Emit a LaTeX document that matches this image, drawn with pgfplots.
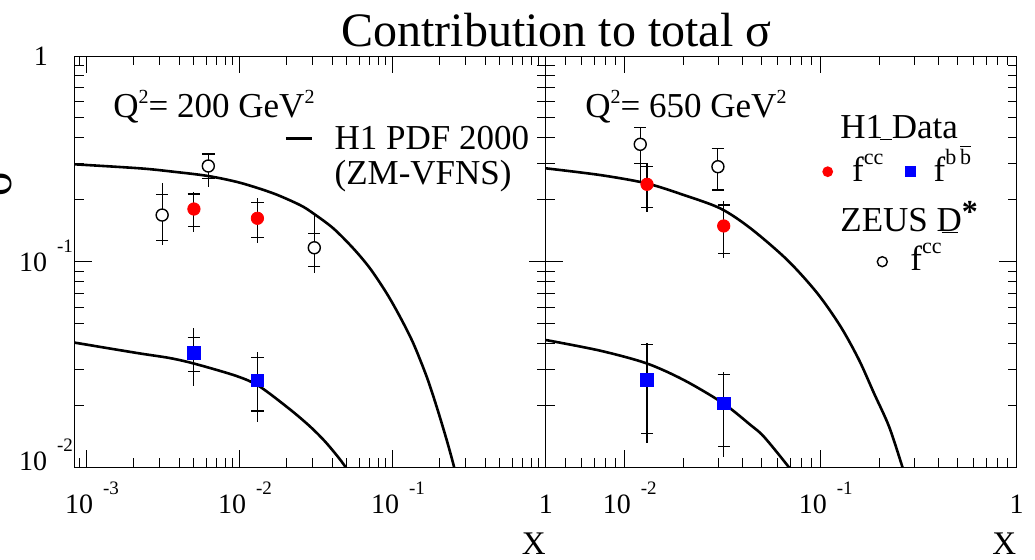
\documentclass[border=0pt]{standalone}
\usepackage{pgfplots}
\usepackage{pgfplotstable}
\pgfplotsset{compat=1.18}
\usepackage{fontspec}
\setmainfont{Liberation Serif}
\newcommand{\tten}[1]{\hspace{5pt}10\hspace{5pt}\raisebox{9.5pt}{\fontsize{9.5}{9.5}\selectfont #1}}
\newcommand{\sps}[1]{\raisebox{7pt}{\fontsize{10}{10}\selectfont #1}}
\newcommand{\spl}[1]{\raisebox{8.5pt}{\fontsize{11}{11}\selectfont #1}}

% x y total+ total- stat+ stat-
\pgfplotstableread{
x y tp tm sp sm
0.00310 0.1686 0.0719 0.0481 0.0441 0.0421
0.00621 0.2919 0.0421 0.0603 0.0421 0.0379
0.0306 0.1169 0.0537 0.0284 0.0205 0.0224
}\zeusL
\pgfplotstableread{
x y tp tm sp sm
0.005 0.1804 0.0384 0.0404 0.0330 0.0314
0.013 0.1626 0.0407 0.0397 0.0318 0.0312
}\hcL
\pgfplotstableread{
x y tp tm sp sm
0.005 0.0361 0.0113 0.0112 0.0068 0.0069
0.013 0.0264 0.0101 0.0097 0.0077 0.0076
}\hbL
\pgfplotstableread{
x y tp tm sp sm
0.0120 0.3722 0.0778 0.1256 0.0778 0.0713
0.0299 0.2896 0.0662 0.0664 0.0662 0.0664
}\zeusR
\pgfplotstableread{
x y tp tm sp sm
0.013 0.2378 0.0631 0.0630 0.0518 0.0540
0.032 0.1492 0.0480 0.0453 0.0395 0.0393
}\hcR
\pgfplotstableread{
x y tp tm sp sm
0.013 0.0266 0.0138 0.0135 0.0128 0.0120
0.032 0.0205 0.0087 0.0093 0.0079 0.0079
}\hbR

\pgfplotsset{
  hTot/.style={only marks, mark=none, black, forget plot,
    error bars/y dir=both, error bars/y explicit, error bars/error mark=none,
    error bars/error bar style={line width=0.55pt, black}},
  hStat/.style={only marks, mark=none, black, forget plot,
    error bars/y dir=both, error bars/y explicit, error bars/error mark=-,
    error bars/error mark options={rotate=90, mark size=3.1pt, line width=0.55pt, black},
    error bars/error bar style={line width=0.55pt, black}},
  hCurve/.style={black, line width=1.3pt, smooth, forget plot},
  hZ/.style={only marks, mark=*, mark size=3pt, mark options={fill=white, draw=black, line width=0.7pt}, forget plot},
  hC/.style={only marks, mark=*, mark size=3.1pt, red, forget plot},
  hB/.style={only marks, mark=square*, mark size=3.1pt, blue, forget plot},
}

\begin{document}
\begin{tikzpicture}
\useasboundingbox (0,0) rectangle (517.5pt,279.5pt);

% ---------------- left panel: Q^2 = 200 GeV^2
\begin{axis}[xmode=log, ymode=log,
  scale only axis, height=205.7pt, width=235.5pt,
  at={(37.5pt,45.8pt)}, anchor=south west,
  xmin=8.35e-4, xmax=1, ymin=0.01, ymax=1,
  axis line style={line width=0.5pt},
  tick align=inside, xtick pos=both, ytick pos=both,
  major tick length=8.75pt, minor tick length=4.5pt,
  tick style={black, line width=0.5pt},
  ytick={0.01,0.1,1},
  minor ytick={0.02,0.03,0.04,0.05,0.06,0.07,0.08,0.09,0.2,0.3,0.4,0.5,0.6,0.7,0.8,0.9},
  tick label style={font=\fontsize{14}{14}\selectfont},
  xticklabel style={anchor=base, yshift=-23pt},
  yticklabel style={anchor=base, xshift=-17pt, yshift=-4.8pt},
  xtick={0.001,0.01,0.1,1},
  xticklabels={\tten{-3},\tten{-2},\tten{-1},1},
  minor xtick={0.0009,0.002,0.003,0.004,0.005,0.006,0.007,0.008,0.009,0.02,0.03,0.04,0.05,0.06,0.07,0.08,0.09,0.2,0.3,0.4,0.5,0.6,0.7,0.8,0.9},
  yticklabels={\raisebox{3.5pt}{\tten{-2}},\tten{-1},1},
]
\addplot[hCurve] coordinates {
(8.35e-4,0.2975) (2.220e-3,0.2844) (3.664e-3,0.2739) (6.206e-3,0.2609)
(0.01,0.2421) (0.01650,0.2150) (0.02468,0.1886) (0.03013,0.1718)
(0.04072,0.1453) (0.05500,0.1161) (0.07073,0.09288) (0.09095,0.07022)
(0.1111,0.05402) (0.1358,0.04011) (0.1661,0.02760) (0.1930,0.01972)
(0.2244,0.01359) (0.2504,0.01008) (0.258,0.0088)};
\addplot[hCurve] coordinates {
(8.35e-4,0.0404) (2.12e-3,0.0360) (3.49e-3,0.0340) (5.15e-3,0.0318)
(9.51e-3,0.0278) (0.01337,0.0248) (0.02122,0.01915) (0.02868,0.01582)
(0.03593,0.01338) (0.04503,0.01094) (0.05236,0.00935)};
\addplot[hTot] table[x=x,y=y,y error plus=tp,y error minus=tm] {\zeusL};
\addplot[hStat] table[x=x,y=y,y error plus=sp,y error minus=sm] {\zeusL};
\addplot[hTot] table[x=x,y=y,y error plus=tp,y error minus=tm] {\hcL};
\addplot[hStat] table[x=x,y=y,y error plus=sp,y error minus=sm] {\hcL};
\addplot[hTot] table[x=x,y=y,y error plus=tp,y error minus=tm] {\hbL};
\addplot[hStat] table[x=x,y=y,y error plus=sp,y error minus=sm] {\hbL};
\addplot[hZ] table[x=x,y=y] {\zeusL};
\addplot[hC] table[x=x,y=y] {\hcL};
\addplot[hB] table[x=x,y=y] {\hbL};
\end{axis}

% ---------------- right panel: Q^2 = 650 GeV^2
\begin{axis}[xmode=log, ymode=log,
  scale only axis, height=205.7pt, width=235.35pt,
  at={(273pt,45.8pt)}, anchor=south west,
  xmin=3.967e-3, xmax=1, ymin=0.01, ymax=1,
  axis line style={line width=0.5pt},
  tick align=inside, xtick pos=both, ytick pos=both,
  major tick length=8.75pt, minor tick length=4.5pt,
  tick style={black, line width=0.5pt},
  ytick={0.01,0.1,1},
  minor ytick={0.02,0.03,0.04,0.05,0.06,0.07,0.08,0.09,0.2,0.3,0.4,0.5,0.6,0.7,0.8,0.9},
  tick label style={font=\fontsize{14}{14}\selectfont},
  xticklabel style={anchor=base, yshift=-23pt},
  xtick={0.01,0.1,1},
  xticklabels={\tten{-2},\tten{-1},1},
  minor xtick={0.005,0.006,0.007,0.008,0.009,0.02,0.03,0.04,0.05,0.06,0.07,0.08,0.09,0.2,0.3,0.4,0.5,0.6,0.7,0.8,0.9},
  yticklabels={},
]
\addplot[hCurve] coordinates {
(3.967e-3,0.2844) (7.51e-3,0.2638) (0.01291,0.2405) (0.02002,0.2110)
(0.03083,0.1814) (0.04387,0.1453) (0.06758,0.1019) (0.09618,0.0702)
(0.1265,0.0483) (0.1569,0.0333) (0.1872,0.0229) (0.2234,0.01577)
(0.2615,0.01001) (0.2717,0.00888)};
\addplot[hCurve] coordinates {
(3.967e-3,0.04161) (7.51e-3,0.03693) (0.01291,0.03207) (0.02002,0.02660)
(0.03183,0.02049) (0.04387,0.01607) (0.05133,0.01410) (0.06887,0.01001)
(0.07452,0.00888)};
\addplot[hTot] table[x=x,y=y,y error plus=tp,y error minus=tm] {\zeusR};
\addplot[hStat] table[x=x,y=y,y error plus=sp,y error minus=sm] {\zeusR};
\addplot[hTot] table[x=x,y=y,y error plus=tp,y error minus=tm] {\hcR};
\addplot[hStat] table[x=x,y=y,y error plus=sp,y error minus=sm] {\hcR};
\addplot[hTot] table[x=x,y=y,y error plus=tp,y error minus=tm] {\hbR};
\addplot[hStat] table[x=x,y=y,y error plus=sp,y error minus=sm] {\hbR};
\addplot[hZ] table[x=x,y=y] {\zeusR};
\addplot[hC] table[x=x,y=y] {\hcR};
\addplot[hB] table[x=x,y=y] {\hbR};
\end{axis}

% ---------------- texts (coordinates in reference pixels)
\begin{scope}[x=0.5pt, y=-0.5pt, shift={(0pt,279.5pt)}]
\node[anchor=base, inner sep=0pt, font=\fontsize{24}{26}\selectfont] at (556.5,46.7) {Contribution to total σ};
\node[rotate=90, inner sep=0pt, font=\fontsize{24}{26}\selectfont] at (-1,184) {σ};
\begin{scope}[every node/.style={anchor=base west, inner sep=0pt, font=\fontsize{17.5}{18}\selectfont}]
\node at (113,117.3) {Q\sps{2}= 200 GeV\sps{2}};
\node at (334.2,149.3) {H1 PDF 2000};
\node at (334.2,184.5) {(ZM-VFNS)};
\node at (585,117.3) {Q\sps{2}= 650 GeV\sps{2}};
\node at (840,138.3) {H1 Data};
\node at (851.7,181.7) {f\spl{cc}};
\node at (933.3,181.7) {f\spl{b\,$\overline{\mbox{b}}$}};
\node at (840,231.7) {ZEUS D\raisebox{4.5pt}{\fontsize{16}{16}\selectfont\bfseries *}};
\node at (910,270) {f\spl{cc}};
\end{scope}
\draw[line width=1.5pt] (285.9,138.3) -- (311.8,138.3);
\draw[line width=0.6pt] (880,139.5) -- (892,139.5);
\draw[line width=0.6pt] (941.7,232.8) -- (958.3,232.8);
\node[circle, fill=red, inner sep=0pt, minimum size=5.4pt] at (827.7,171.7) {};
\node[fill=blue, inner sep=0pt, minimum size=5.5pt] at (910,171.7) {};
\node[circle, draw=black, line width=0.7pt, inner sep=0pt, minimum size=5pt] at (882.3,261.7) {};
\node[anchor=base east, inner sep=0pt, font=\fontsize{16.5}{17}\selectfont] at (546,554) {X};
\node[anchor=base east, inner sep=0pt, font=\fontsize{16.5}{17}\selectfont] at (1016.7,554) {X};
\end{scope}
\end{tikzpicture}
\end{document}
